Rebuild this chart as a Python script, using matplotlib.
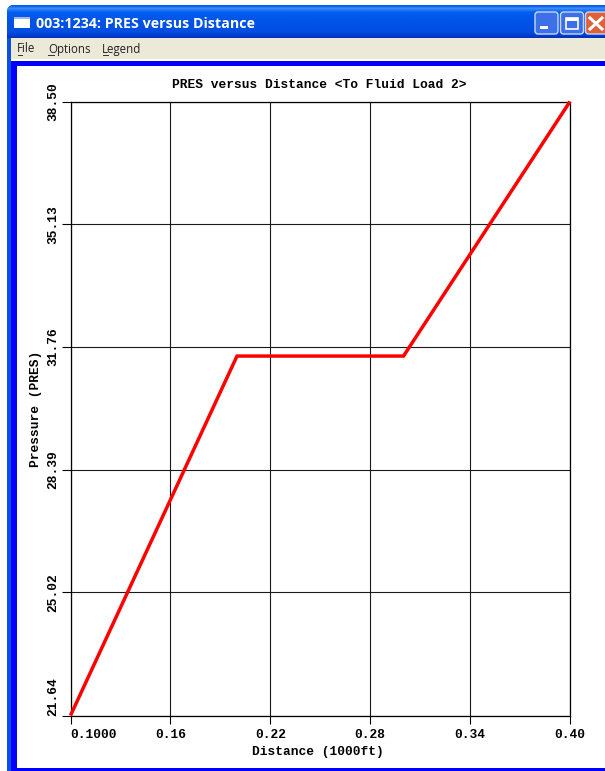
import numpy as np
import matplotlib
matplotlib.use("Agg")
import matplotlib.pyplot as plt
from matplotlib.patches import Rectangle, FancyBboxPatch

# ---- data ----
distance = [0.10, 0.20, 0.30, 0.40]
pressure = [21.64, 31.51, 31.51, 38.50]
x_ticks = [0.10, 0.16, 0.22, 0.28, 0.34, 0.40]
x_labels = ["0.1000", "0.16", "0.22", "0.28", "0.34", "0.40"]
y_ticks = [21.64, 25.02, 28.39, 31.76, 35.13, 38.50]
y_labels = ["21.64", "25.02", "28.39", "31.76", "35.13", "38.50"]
title = "PRES versus Distance <To Fluid Load 2>"
xlabel = "Distance (1000ft)"
ylabel = "Pressure (PRES)"
window_title = "003:1234: PRES versus Distance"
menu_items = ["File", "Options", "Legend"]

W, H = 605, 771
fig = plt.figure(figsize=(W / 100, H / 100), dpi=100, facecolor="white")

# ---- window chrome, in pixel coordinates ----
bg = fig.add_axes([0, 0, 1, 1], zorder=0)
bg.set_xlim(0, W)
bg.set_ylim(H, 0)
bg.axis("off")

# outer frame with rounded top
bg.add_patch(FancyBboxPatch((12, 10), W, H, boxstyle="round,pad=5,rounding_size=7",
                            fc="#0A4FE6", ec="none"))
# title-bar gradient
stops_y = [5, 8, 12, 20, 32, 36, 38]
stops_c = np.array([[0, 88, 238], [60, 140, 250], [0, 95, 240], [0, 84, 230],
                    [0, 78, 225], [0, 60, 205], [0, 50, 190]]) / 255
rows = np.arange(5, 38.01, 1)
grad = np.stack([np.interp(rows, stops_y, stops_c[:, i]) for i in range(3)], axis=1)[:, None, :]
im = bg.imshow(grad, extent=(7, W, 38, 5), aspect="auto", interpolation="bilinear", zorder=1)
im.set_clip_path(FancyBboxPatch((12, 10), W, 40, boxstyle="round,pad=5,rounding_size=7",
                                transform=bg.transData))
bg.set_xlim(0, W)
bg.set_ylim(H, 0)

# left border, menu bar, inner blue frame, client area
bg.add_patch(Rectangle((7, 38), 5, H, fc="#0A4FE6", ec="none", zorder=2))
bg.add_patch(Rectangle((11, 38), W, 21, fc="#ECE9D8", ec="none", zorder=2))
bg.add_patch(Rectangle((11, 59), W, 1.5, fc="white", ec="none", zorder=2))
bg.add_patch(Rectangle((11, 60.5), W, 5, fc="#0000FF", ec="none", zorder=2))
bg.add_patch(Rectangle((11, 60.5), 6, H, fc="#0000FF", ec="none", zorder=2))
bg.add_patch(Rectangle((17, 65.5), W, 702.5, fc="white", ec="none", zorder=2))
bg.add_patch(Rectangle((11, 768), W, 3, fc="#0000FF", ec="none", zorder=2))

# window icon and title
bg.add_patch(Rectangle((14, 18), 16, 10, fc="white", ec="none", zorder=3))
bg.add_patch(Rectangle((14, 17), 16, 2, fc="#9DB8E8", ec="none", zorder=3))
bg.text(35.5, 24.5, window_title, color="white", fontsize=10.3, family="Open Sans",
        weight="bold", va="center", ha="left", zorder=4)

# menu items
for label, px in zip(menu_items, [17, 48, 102]):
    bg.text(px, 49, label, color="#222222", fontsize=8.3, family="Open Sans",
            va="center", ha="left", zorder=4)
for x0, x1 in [(18, 22), (48, 54), (103, 108)]:
    bg.plot([x0, x1], [54.5, 54.5], color="#333333", lw=0.7, zorder=4)

# window buttons
for x0, fc in [(535, "#3C6FE8"), (560.5, "#3C6FE8"), (585.5, "#E0603A")]:
    bg.add_patch(FancyBboxPatch((x0 + 2, 14), 19, 18, boxstyle="round,pad=2,rounding_size=3",
                                fc=fc, ec="#C8D8F8", lw=1, zorder=3))
bg.add_patch(Rectangle((540, 26), 8, 3, fc="white", ec="none", zorder=4))
bg.add_patch(Rectangle((566, 18), 12, 11, fc="none", ec="white", lw=1.2, zorder=4))
bg.add_patch(Rectangle((566, 18), 12, 2.5, fc="white", ec="none", zorder=4))
bg.plot([590, 602], [18, 29], color="white", lw=2.2, zorder=4)
bg.plot([590, 602], [29, 18], color="white", lw=2.2, zorder=4)

# ---- plot area ----
left, right, top, bottom = 70.5, 570, 101.5, 715.5
ax = fig.add_axes([left / W, 1 - bottom / H, (right - left) / W, (bottom - top) / H], zorder=5)
ax.set_facecolor("white")
ax.set_xlim(x_ticks[0], x_ticks[-1])
ax.set_ylim(y_ticks[0], y_ticks[-1])
ax.plot(distance, pressure, color="#FF0000", lw=2.5, zorder=3, clip_on=False,
        solid_joinstyle="miter", solid_capstyle="butt")
ax.grid(True, color="#1a1a1a", lw=0.8)
ax.set_axisbelow(True)
for s in ax.spines.values():
    s.set_linewidth(0.9)
    s.set_color("black")

mono = dict(family="Liberation Mono", weight="bold", color="black", fontsize=9.3)
ax.set_xticks(x_ticks)
ax.set_xticklabels(x_labels, **mono)
ax.get_xticklabels()[0].set_ha("left")
ax.set_yticks(y_ticks)
ax.set_yticklabels(y_labels, rotation=90, va="center", **mono)
ax.get_yticklabels()[0].set_va("bottom")
ax.tick_params(axis="x", length=5.8, width=0.8, pad=3.7)
ax.tick_params(axis="y", length=6.2, width=0.8, pad=1.6)

fig.text(319.5 / W, 1 - 84.5 / H, title, ha="center", va="center", **mono)
fig.text(317.5 / W, 1 - 751.5 / H, xlabel, ha="center", va="center", **mono)
fig.text(36 / W, 1 - 409 / H, ylabel, ha="center", va="center", rotation=90, **mono)

fig.savefig("out.png", dpi=100)
